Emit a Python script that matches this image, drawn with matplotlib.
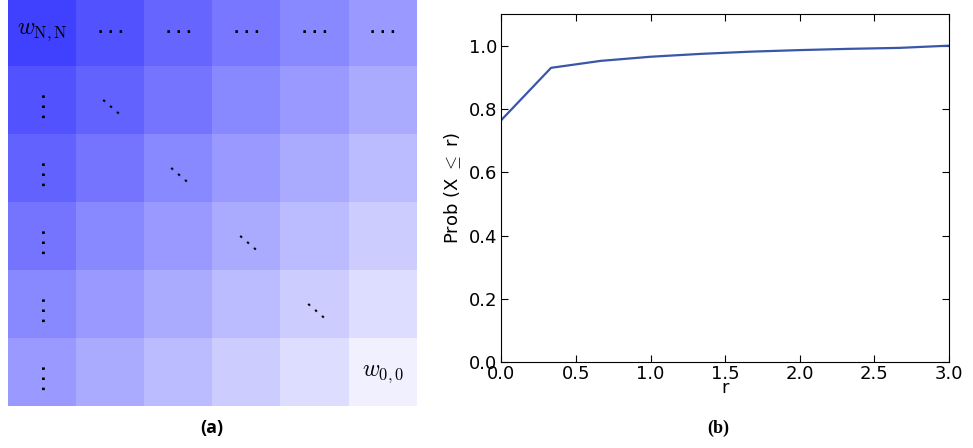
import matplotlib
matplotlib.use('Agg')
import matplotlib.pyplot as plt
import numpy as np

# weight matrix shading (green/red channel, blue stays full)
shade = [
    [0x40, 0x52, 0x66, 0x77, 0x88, 0x99],
    [0x52, 0x62, 0x74, 0x88, 0x99, 0xaa],
    [0x62, 0x74, 0x88, 0x99, 0xaa, 0xbb],
    [0x74, 0x88, 0x99, 0xaa, 0xbb, 0xcc],
    [0x88, 0x99, 0xaa, 0xbb, 0xcc, 0xdd],
    [0x99, 0xaa, 0xbb, 0xcc, 0xdd, 0xf0],
]

# cumulative probability curve
r_vals = [0.0, 1/3, 2/3, 1.0, 4/3, 5/3, 2.0, 7/3, 8/3, 3.0]
prob = [0.765, 0.930, 0.952, 0.965, 0.974, 0.981, 0.986, 0.990, 0.993, 1.0]

plt.rcParams['mathtext.fontset'] = 'cm'

fig = plt.figure(figsize=(9.73, 4.48), dpi=100)

# --- (a) weight matrix ---
ax1 = fig.add_axes([8/973, 1 - 406/448, 409/973, 408/448])
g = np.array(shade) / 255.0
rgb = np.dstack([g, g, np.ones_like(g)])
ax1.imshow(rgb, extent=(0, 6, 6, 0), aspect='auto', interpolation='nearest')
ax1.set_xlim(0, 6)
ax1.set_ylim(6, 0)
ax1.axis('off')

dots = '\u00b7 \u00b7 \u00b7'
n = len(shade)
for i in range(n):
    for j in range(n):
        if i == 0 and j == 0:
            ax1.text(j + 0.5, i + 0.48, r'$w_{\mathrm{N,N}}$', ha='center',
                     va='center', fontsize=17)
        elif i == n - 1 and j == n - 1:
            ax1.text(j + 0.5, i + 0.52, r'$w_{0,0}$', ha='center',
                     va='center', fontsize=17)
        elif i == 0:
            ax1.text(j + 0.5, i + 0.52, dots, ha='center', va='center',
                     fontsize=10, fontweight='bold')
        elif j == 0:
            ax1.text(j + 0.48, i + 0.58, dots, ha='center', va='center',
                     fontsize=10, fontweight='bold', rotation=-90)
        elif i == j:
            ax1.text(j + 0.5, i + 0.6, dots, ha='center', va='center',
                     fontsize=9, fontweight='bold', rotation=-41)

fig.text(212/973, 1 - 428/448, '(a)', ha='center', va='center',
         fontsize=13, fontweight='bold', family='Open Sans')

# --- (b) CDF plot ---
ax2 = fig.add_axes([501.3/973, 1 - 362.3/448, 447.7/973, 348.3/448])
ax2.plot(r_vals, prob, color='#3a56a8', lw=1.6)
ax2.set_xlim(0, 3)
ax2.set_ylim(0, 1.1)
ax2.set_xticks(np.arange(0, 3.01, 0.5))
ax2.set_yticks(np.arange(0, 1.01, 0.2))
ax2.tick_params(direction='in', top=True, right=True, length=5, labelsize=13)
ax2.tick_params(axis='x', pad=2)
ax2.tick_params(axis='y', pad=3)
ax2.set_xlabel('r', fontsize=13, labelpad=-3)
ax2.set_ylabel(r'Prob (X $\leq$ r)', fontsize=13, labelpad=4)

fig.text(718/973, 1 - 428/448, '(b)', ha='center', va='center',
         fontsize=13, fontweight='bold', family='Liberation Serif')

fig.savefig('out.png', dpi=100)
